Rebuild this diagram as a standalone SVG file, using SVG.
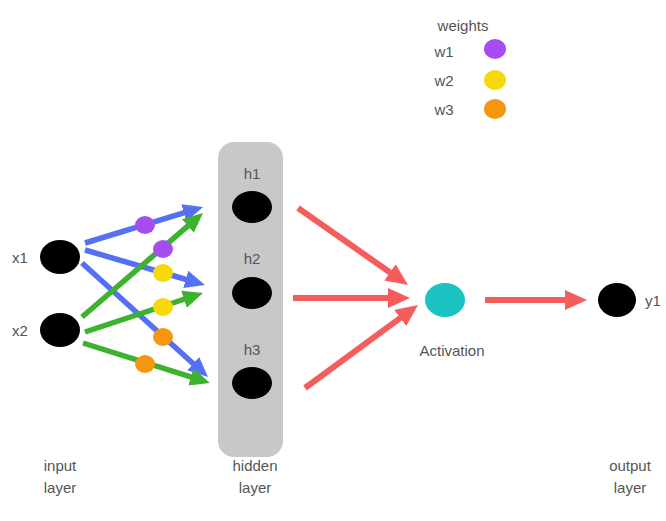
<svg xmlns="http://www.w3.org/2000/svg" width="666" height="521" viewBox="0 0 666 521">
  <style>
    .lbl { font-family: "Liberation Sans", Arial, sans-serif; font-size: 15px; fill: #555; text-anchor: middle; dominant-baseline: central; }
    .node { fill: #000; }
    .blue { stroke: #5570F2; stroke-width: 5.5; fill: none; marker-end: url(#headBlue); }
    .green { stroke: #3DB22E; stroke-width: 5.5; fill: none; marker-end: url(#headGreen); }
    .red { stroke: #F55D5D; stroke-width: 6; fill: none; marker-end: url(#headRed); }
    .w1 { fill: #A64DF2; }
    .w2 { fill: #F5D90A; }
    .w3 { fill: #F5960F; }
  </style>
  <defs>
    <marker id="headBlue" markerUnits="userSpaceOnUse" markerWidth="20" markerHeight="18" refX="4" refY="9" orient="auto">
      <path d="M0,0 L20,9 L0,18 z" fill="#5570F2"/>
    </marker>
    <marker id="headGreen" markerUnits="userSpaceOnUse" markerWidth="20" markerHeight="18" refX="4" refY="9" orient="auto">
      <path d="M0,0 L20,9 L0,18 z" fill="#3DB22E"/>
    </marker>
    <marker id="headRed" markerUnits="userSpaceOnUse" markerWidth="22" markerHeight="20" refX="4" refY="10" orient="auto">
      <path d="M0,0 L22,10 L0,20 z" fill="#F55D5D"/>
    </marker>
  </defs>

  <rect width="666" height="521" fill="#fff"/>

  <!-- hidden layer panel -->
  <g id="hidden-panel">
    <rect x="218" y="142" width="65" height="315" rx="16" fill="#C8C8C8"/>
  </g>

  <!-- connectors: end points sit short of the tips so the heads reach them -->
  <g id="connectors">
    <line class="blue" x1="85" y1="243" x2="187.7" y2="211.7"/>
    <line class="blue" x1="85" y1="250" x2="189.6" y2="280.5"/>
    <line class="blue" x1="82" y1="263" x2="196.1" y2="366.3"/>
    <line class="green" x1="82" y1="317" x2="190.9" y2="223.4"/>
    <line class="green" x1="85" y1="332" x2="187.8" y2="298.0"/>
    <line class="green" x1="83" y1="343" x2="194.7" y2="378.2"/>
    <line class="red" x1="298" y1="208" x2="393.3" y2="274.7"/>
    <line class="red" x1="293" y1="298" x2="392" y2="298"/>
    <line class="red" x1="305" y1="388" x2="403.5" y2="315.7"/>
    <line class="red" x1="485" y1="300" x2="569" y2="300"/>
  </g>

  <!-- weight markers on the edges -->
  <g id="weights-on-edges">
    <ellipse class="w1" cx="145" cy="225" rx="10" ry="9"/>
    <ellipse class="w1" cx="163" cy="249" rx="10" ry="9"/>
    <ellipse class="w2" cx="163" cy="273" rx="10" ry="9"/>
    <ellipse class="w2" cx="163" cy="307" rx="10" ry="9"/>
    <ellipse class="w3" cx="163" cy="337" rx="10" ry="9"/>
    <ellipse class="w3" cx="145" cy="364" rx="10" ry="9"/>
  </g>

  <!-- input layer -->
  <g id="x1">
    <ellipse class="node" cx="60" cy="257" rx="20" ry="17"/>
    <text class="lbl" x="20" y="257">x1</text>
  </g>
  <g id="x2">
    <ellipse class="node" cx="60" cy="330" rx="20" ry="17"/>
    <text class="lbl" x="20" y="330">x2</text>
  </g>

  <!-- hidden layer -->
  <g id="h1">
    <text class="lbl" x="252" y="173">h1</text>
    <ellipse class="node" cx="252" cy="207" rx="20" ry="16"/>
  </g>
  <g id="h2">
    <text class="lbl" x="252" y="258">h2</text>
    <ellipse class="node" cx="252" cy="293" rx="20" ry="16"/>
  </g>
  <g id="h3">
    <text class="lbl" x="252" y="349">h3</text>
    <ellipse class="node" cx="252" cy="383" rx="20" ry="16"/>
  </g>

  <!-- activation -->
  <g id="activation">
    <ellipse cx="445" cy="300" rx="20" ry="17" fill="#1BC2C2"/>
    <text class="lbl" x="452" y="350">Activation</text>
  </g>

  <!-- output -->
  <g id="y1">
    <ellipse class="node" cx="617" cy="300" rx="19" ry="17"/>
    <text class="lbl" x="653" y="300">y1</text>
  </g>

  <!-- legend -->
  <g id="legend">
    <text class="lbl" x="463" y="25">weights</text>
    <text class="lbl" x="444" y="51">w1</text>
    <ellipse class="w1" cx="495" cy="49" rx="11" ry="10"/>
    <text class="lbl" x="444" y="80">w2</text>
    <ellipse class="w2" cx="495" cy="80" rx="11" ry="10"/>
    <text class="lbl" x="444" y="109">w3</text>
    <ellipse class="w3" cx="495" cy="109" rx="11" ry="10"/>
  </g>

  <!-- layer captions -->
  <g id="captions">
    <text class="lbl" x="60" y="465">input</text>
    <text class="lbl" x="60" y="487">layer</text>
    <text class="lbl" x="255" y="465">hidden</text>
    <text class="lbl" x="255" y="487">layer</text>
    <text class="lbl" x="630" y="465">output</text>
    <text class="lbl" x="630" y="487">layer</text>
  </g>
</svg>
